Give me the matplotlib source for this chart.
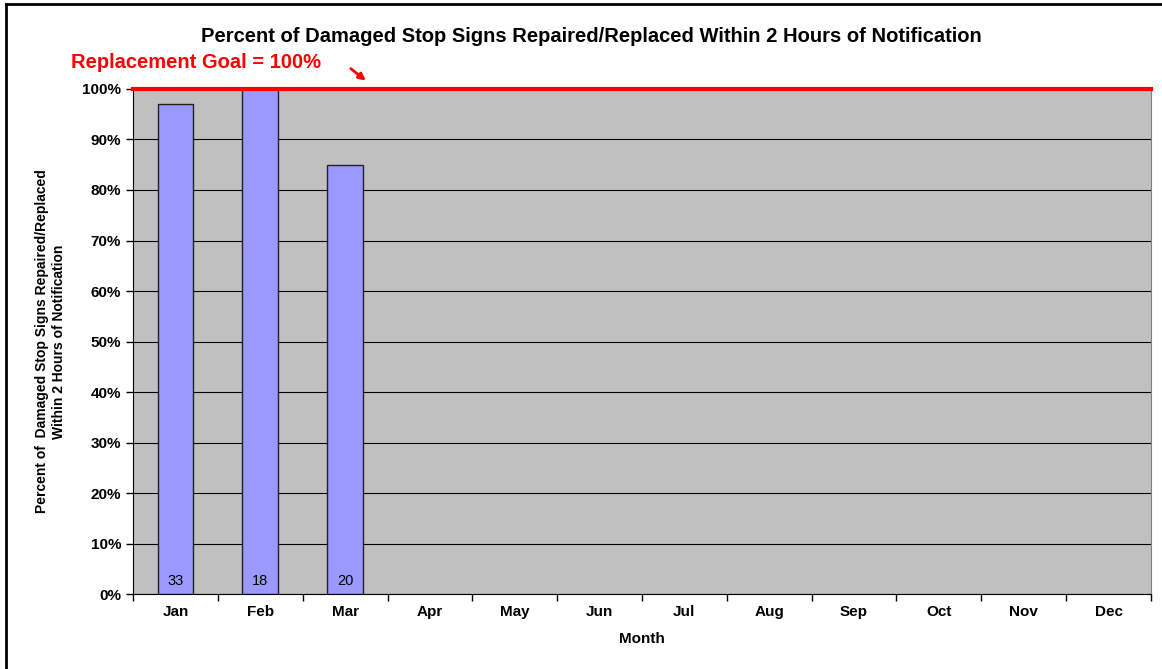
import matplotlib.pyplot as plt
import numpy as np
from matplotlib.lines import Line2D

months = ['Jan', 'Feb', 'Mar', 'Apr', 'May', 'Jun', 'Jul', 'Aug', 'Sep', 'Oct', 'Nov', 'Dec']
pct_repaired = [0.97, 1.00, 0.85]
sign_counts = [33, 18, 20]
goal = 1.00

plt.rcParams['font.family'] = ['Liberation Sans', 'DejaVu Sans']

fig = plt.figure(figsize=(11.62, 6.69), dpi=100)
ax = fig.add_axes([0.1145, 0.112, 0.876, 0.755])
ax.set_facecolor('#c0c0c0')

x = np.arange(len(months))
xb = x[:len(pct_repaired)]
ax.bar(xb, pct_repaired, width=0.42, color='#9999ff', edgecolor='#222222', linewidth=1, zorder=3)
for xi, n in zip(xb, sign_counts):
    ax.text(xi, 0.012, str(n), ha='center', va='bottom', fontsize=10.5, zorder=4)

yt = np.arange(0, 1.01, 0.1)
ax.set_yticks(yt)
ax.set_yticklabels([f'{int(round(v * 100))}%' for v in yt], fontsize=11, fontweight='bold')
ax.yaxis.grid(True, color='black', linewidth=0.8, zorder=1)
ax.set_axisbelow(True)
ax.set_ylim(0, 1.0)
ax.set_xlim(-0.5, len(months) - 0.5)
ax.set_xticks(np.arange(-0.5, len(months), 1.0))
ax.set_xticklabels([])
ax.set_xticks(x, minor=True)
ax.set_xticklabels(months, minor=True, fontsize=11, fontweight='bold')
ax.tick_params(axis='x', which='minor', length=0, pad=8)
ax.tick_params(axis='x', which='major', length=5, direction='out', width=1)
ax.tick_params(axis='y', length=5, width=1)

ax.axhline(goal, color='red', linewidth=3, zorder=5, clip_on=False)

for s in ['top', 'right']:
    ax.spines[s].set_color('#808080')
ax.spines['left'].set_color('black')
ax.spines['bottom'].set_color('black')

ax.set_xlabel('Month', fontsize=11, fontweight='bold', labelpad=9)
ax.set_ylabel('Percent of  Damaged Stop Signs Repaired/Replaced\nWithin 2 Hours of Notification',
              fontsize=10, fontweight='bold', labelpad=12)
fig.text(0.5086, 0.946,
         'Percent of Damaged Stop Signs Repaired/Replaced Within 2 Hours of Notification',
         fontsize=14.5, fontweight='bold', ha='center', va='center')

fig.text(0.061, 0.906, 'Replacement Goal = 100%', color='red', fontsize=14.5,
         fontweight='bold', ha='left', va='center')
ax.annotate('', xy=(0.3167, 0.877), xycoords='figure fraction',
            xytext=(0.300, 0.900), textcoords='figure fraction',
            arrowprops=dict(arrowstyle='-|>', color='red', lw=2, mutation_scale=10),
            annotation_clip=False)

fig.add_artist(Line2D([0.005, 0.005], [0.0, 0.994], color='black', linewidth=2))
fig.add_artist(Line2D([0.005, 1.0], [0.994, 0.994], color='black', linewidth=2))

fig.savefig('out.png', dpi=100)
